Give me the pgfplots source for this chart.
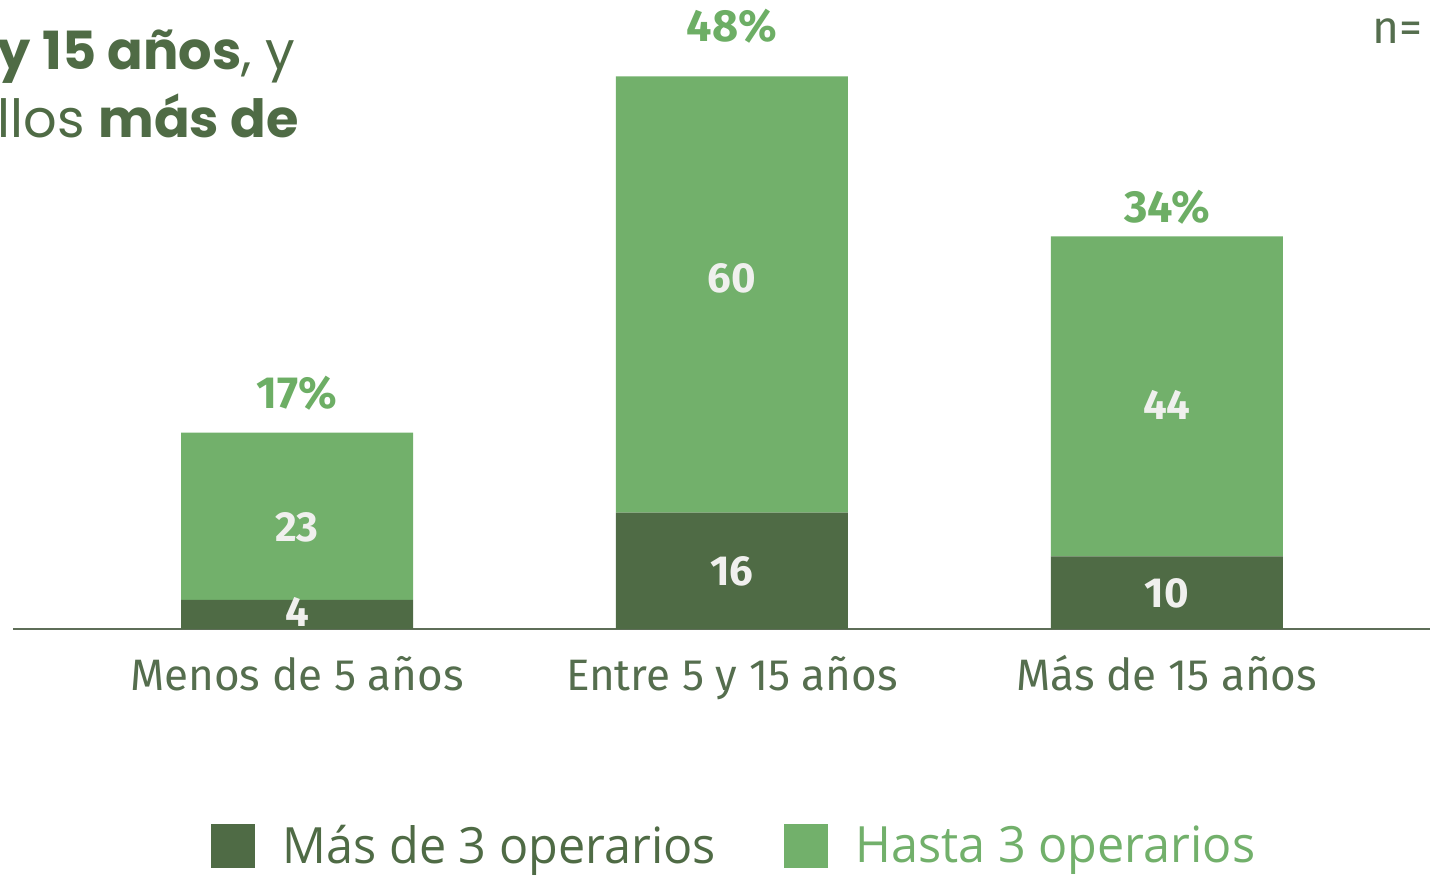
\documentclass[border=0pt]{standalone}
\usepackage{pgfplots}
\pgfplotsset{compat=1.18}
\usepackage{fontspec}
\setmainfont{Fira Sans}
\newfontfamily\titlefont{Poppins}
\newfontfamily\legfont[FakeStretch=0.97]{Open Sans}
\definecolor{darkg}{HTML}{4F6B45}
\definecolor{lightg}{HTML}{72B06B}
\definecolor{pctg}{HTML}{6DAE65}
\definecolor{tickg}{HTML}{556E4E}
\definecolor{axisg}{HTML}{5E6E58}
\definecolor{valc}{HTML}{F0F0EE}
\tikzset{valnode/.style={font=\bfseries\fontsize{21}{24}\selectfont, text=valc},
         pctnode/.style={font=\bfseries\fontsize{22.5}{26}\selectfont, text=pctg}}
\begin{document}
\begin{tikzpicture}[x=0.5pt,y=0.5pt]
\useasboundingbox (0,0) rectangle (1430,876);
\begin{axis}[
  at={(6.5pt,123.5pt)}, anchor=south west,
  scale only axis, width=708.5pt, height=314.5pt,
  xmin=-0.653, xmax=2.605, ymin=0, ymax=86.52,
  ybar stacked, bar width=116pt,
  axis x line*=bottom, axis y line=none,
  axis line style={draw=axisg, line width=1pt},
  xtick={0,1,2},
  xticklabels={Menos de 5 años, Entre 5 y 15 años, Más de 15 años},
  major tick length=0pt,
  x tick label style={font=\fontsize{22}{26}\selectfont, text=tickg, anchor=base, yshift=-31pt},
  ytick=\empty,
  clip=false,
  legend columns=2,
  legend style={draw=none, fill=none, at={(0.5095,-0.345)}, anchor=center,
    font=\legfont\fontsize{25}{30}\selectfont,
    /tikz/every odd column/.append style={column sep=12pt},
    /tikz/every even column/.append style={column sep=32pt},
    inner sep=0pt},
  legend image code/.code={\fill[#1] (0pt,-11pt) rectangle (22pt,11pt);},
  after end axis/.code={
    \node[valnode] at (axis cs:0,2.34) {4};
    \node[valnode] at (axis cs:0,14.03) {23};
    \node[valnode] at (axis cs:1,7.98) {16};
    \node[valnode] at (axis cs:1,48.28) {60};
    \node[valnode] at (axis cs:2,4.95) {10};
    \node[valnode] at (axis cs:2,30.81) {44};
  },
]
\addplot[fill=darkg, draw=none] coordinates {(0,4) (1,16) (2,10)};
\addlegendentry{\textcolor{darkg}{Más de 3 operarios}}
\addplot[fill=lightg, draw=none] coordinates {(0,23) (1,60) (2,44)};
\addlegendentry{\textcolor{lightg}{Hasta 3 operarios}}
\node[pctnode] at (axis cs:0,32.46) {17\%};
\node[pctnode] at (axis cs:1,82.9) {48\%};
\node[pctnode] at (axis cs:2,58.05) {34\%};
\end{axis}
\node[anchor=base east, inner sep=0pt, text=darkg, font=\titlefont\fontsize{26.3}{30}\selectfont] at (296,806) {\bfseries y 15 años\mdseries, y};
\node[anchor=base east, inner sep=0pt, text=darkg, font=\titlefont\fontsize{26.3}{30}\selectfont] at (299,738) {llos \bfseries más de};
\node[anchor=base west, inner sep=0pt, text=tickg, font=\fontsize{23}{26}\selectfont] at (1372,832) {n=};
\end{tikzpicture}
\end{document}
